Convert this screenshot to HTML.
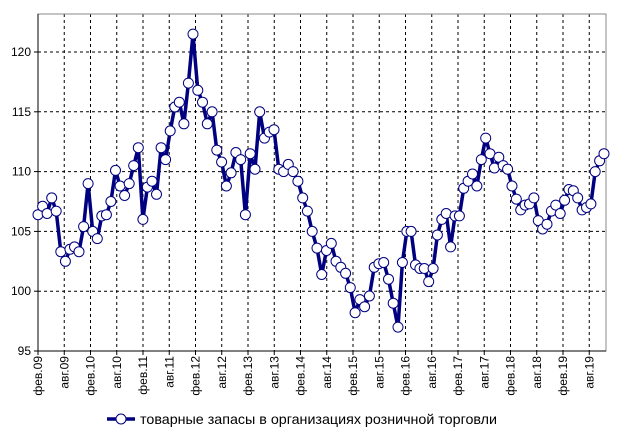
<!DOCTYPE html>
<html><head><meta charset="utf-8"><style>
body{margin:0;background:#fff;}
svg{display:block;font-family:"Liberation Sans",Arial,sans-serif;}
</style></head><body>
<svg id="c" width="630" height="440" xmlns="http://www.w3.org/2000/svg"></svg>
<script>
var s=document.getElementById('c'),h='';
var L=38,R=606,T=14,B=351;
function Y(v){return 351-(v-95)*11.96;}
for(var i=1;i<22;i++){var x=38+i*26.25;if(x<R)h+='<line x1="'+x+'" y1="'+T+'" x2="'+x+'" y2="'+B+'" stroke="#000" stroke-dasharray="3,3"/>';}
for(var v=100;v<=120;v+=5){h+='<line x1="'+L+'" y1="'+Y(v)+'" x2="'+R+'" y2="'+Y(v)+'" stroke="#000" stroke-dasharray="3,3"/>';}
h+='<rect x="'+L+'" y="'+T+'" width="'+(R-L)+'" height="'+(B-T)+'" fill="none" stroke="#888"/>';
h+='<line x1="'+L+'" y1="'+T+'" x2="'+L+'" y2="'+B+'" stroke="#000"/><line x1="'+L+'" y1="'+B+'" x2="'+R+'" y2="'+B+'" stroke="#000"/>';
for(var v=95;v<=120;v+=5){h+='<line x1="34" y1="'+Y(v)+'" x2="'+L+'" y2="'+Y(v)+'" stroke="#000"/><text x="31" y="'+(Y(v)+4)+'" font-size="12" text-anchor="end">'+v+'</text>';}
var labs=[];for(var yr=9;yr<=19;yr++){var t=(yr<10?'0':'')+yr;labs.push('фев.'+t);labs.push('авг.'+t);}
for(var i=0;i<labs.length;i++){var x=38+i*26.25;if(x>R)break;h+='<line x1="'+x+'" y1="'+B+'" x2="'+x+'" y2="355" stroke="#000"/><text transform="translate('+(x+4)+',356) rotate(-90)" font-size="12" text-anchor="end">'+labs[i]+'</text>';}
var d=[106.4,107.1,106.5,107.8,106.7,103.3,102.5,103.5,103.7,103.3,105.4,109.0,105.0,104.4,106.3,106.4,107.5,110.1,108.8,108.0,109.0,110.5,112.0,106.0,108.7,109.2,108.1,112.0,111.0,113.4,115.4,115.8,114.0,117.4,121.5,116.8,115.8,114.0,115.0,111.8,110.8,108.8,109.9,111.6,111.0,106.4,111.5,110.2,115.0,112.8,113.3,113.5,110.2,110.0,110.6,110.0,109.2,107.8,106.7,105.0,103.6,101.4,103.4,104.0,102.5,102.0,101.5,100.3,98.2,99.3,98.7,99.6,102.0,102.3,102.4,101.0,99.0,97.0,102.4,105.0,105.0,102.2,101.9,101.9,100.8,101.9,104.7,106.0,106.5,103.7,106.3,106.3,108.6,109.2,109.8,108.8,111.0,112.8,111.5,110.3,111.2,110.5,110.2,108.8,107.7,106.8,107.2,107.3,107.8,105.9,105.2,105.6,106.7,107.2,106.5,107.6,108.5,108.4,107.8,106.8,107.0,107.3,110.0,110.9,111.5];
function X(i){if(i<=34)return 38+i*155/34;if(i<=77)return 193+(i-34)*205/43;return 398+(i-77)*206/47;}
var p='';for(var i=0;i<d.length;i++)p+=(i?'L':'M')+X(i).toFixed(1)+','+Y(d[i]).toFixed(1);
h+='<path d="'+p+'" fill="none" stroke="#000080" stroke-width="3.5" stroke-linejoin="round"/>';
for(var i=0;i<d.length;i++)h+='<circle cx="'+X(i).toFixed(1)+'" cy="'+Y(d[i]).toFixed(1)+'" r="5" fill="#fff" stroke="#000080" stroke-width="1"/>';
h+='<line x1="107" y1="419" x2="135" y2="419" stroke="#000080" stroke-width="3.5"/><circle cx="121" cy="419" r="5" fill="#fff" stroke="#000080"/>';
h+='<text x="140" y="424" font-size="14" textLength="357" lengthAdjust="spacingAndGlyphs">товарные запасы в организациях розничной торговли</text>';
s.innerHTML=h;
</script>
</body></html>
